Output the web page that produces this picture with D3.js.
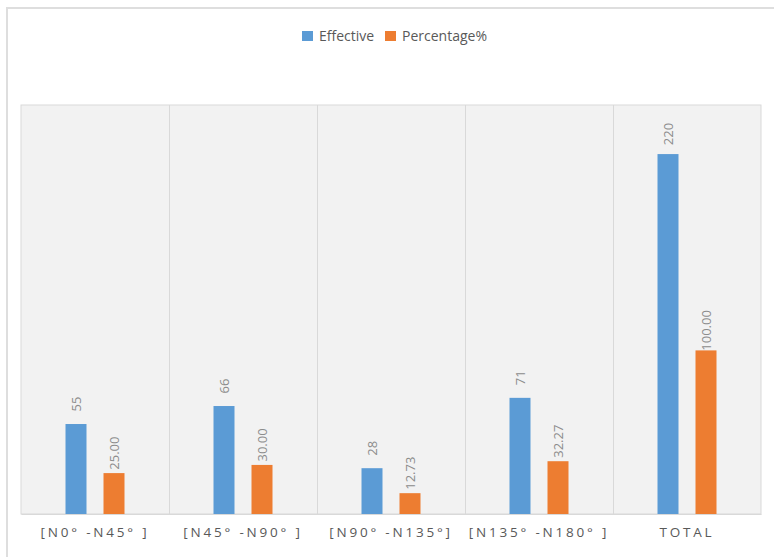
<!DOCTYPE html>
<html><head><meta charset="utf-8">
<script src="https://cdn.jsdelivr.net/npm/d3@7"></script>
<style>body{margin:0;background:#fff}svg{display:block}</style>
</head><body>
<script>
const categories = ["[N0° -N45° ]", "[N45° -N90° ]", "[N90° -N135°]", "[N135° -N180° ]", "TOTAL"];
const seriesNames = ["Effective", "Percentage%"];
const effective = [55, 66, 28, 71, 220];
const percentage = [25.00, 30.00, 12.73, 32.27, 100.00];
const effectiveLabels = ["55", "66", "28", "71", "220"];
const percentageLabels = ["25.00", "30.00", "12.73", "32.27", "100.00"];
const colors = ["#5b9bd5", "#ed7d31"];

const W = 774, H = 557;
const svg = d3.select("body").append("svg").attr("width", W).attr("height", H);

// outer frame
svg.append("rect").attr("x", 7).attr("y", 8).attr("width", 800).attr("height", 600)
  .attr("fill", "#fff").attr("stroke", "#dedede").attr("stroke-width", 2);

const plot = {left: 21, right: 761, top: 105, bottom: 514};
const x = d3.scaleBand().domain(categories).range([plot.left, plot.right]);
const y = d3.scaleLinear().domain([0, 250]).range([plot.bottom, plot.top]);

svg.append("rect").attr("x", plot.left).attr("y", plot.top)
  .attr("width", plot.right - plot.left).attr("height", plot.bottom - plot.top)
  .attr("fill", "#f2f2f2").attr("stroke", "#d9d9d9").attr("stroke-width", 1);

// separators
svg.selectAll("line.sep").data(categories.slice(1)).join("line").attr("class", "sep")
  .attr("x1", d => Math.round(x(d)) + 0.5).attr("x2", d => Math.round(x(d)) + 0.5)
  .attr("y1", plot.top).attr("y2", plot.bottom)
  .attr("stroke", "#d9d9d9").attr("stroke-width", 1);

const barW = 21, gap = 17;
const series = [effective, percentage];
const labels = [effectiveLabels, percentageLabels];
series.forEach((vals, si) => {
  const off = si === 0 ? -(gap / 2 + barW) : gap / 2;
  const g = svg.append("g");
  g.selectAll("rect").data(vals).join("rect")
    .attr("x", (d, i) => x(categories[i]) + x.bandwidth() / 2 + off)
    .attr("y", d => y(d)).attr("width", barW).attr("height", d => y(0) - y(d))
    .attr("fill", colors[si]);
  g.selectAll("text").data(vals).join("text")
    .attr("transform", (d, i) => {
      const cx = x(categories[i]) + x.bandwidth() / 2 + off + barW / 2;
      return `translate(${cx},${y(d) - 20}) rotate(-90)`;
    })
    .attr("text-anchor", "middle").attr("dy", "0.36em")
    .attr("font-family", "Open Sans").attr("font-size", 13).attr("fill", "#8c8c8c")
    .text((d, i) => labels[si][i]);
});

// axis
const axis = d3.axisBottom(x).tickSize(0).tickPadding(0);
const ax = svg.append("g").attr("transform", `translate(0,${plot.bottom})`).call(axis);
ax.select(".domain").attr("stroke", "#d9d9d9");
ax.selectAll("text").attr("dy", null).attr("y", 23)
  .attr("font-family", "Open Sans").attr("font-size", 13.5).attr("fill", "#595959")
  .attr("letter-spacing", "2.8px");

// legend
const leg = svg.append("g").attr("font-family", "Open Sans").attr("font-size", 14).attr("fill", "#595959");
const legX = [302, 385];
seriesNames.forEach((n, i) => {
  leg.append("rect").attr("x", legX[i]).attr("y", 31).attr("width", 11).attr("height", 10).attr("fill", colors[i]);
  leg.append("text").attr("x", legX[i] + 17).attr("y", 41).text(n);
});
</script>
</body></html>
